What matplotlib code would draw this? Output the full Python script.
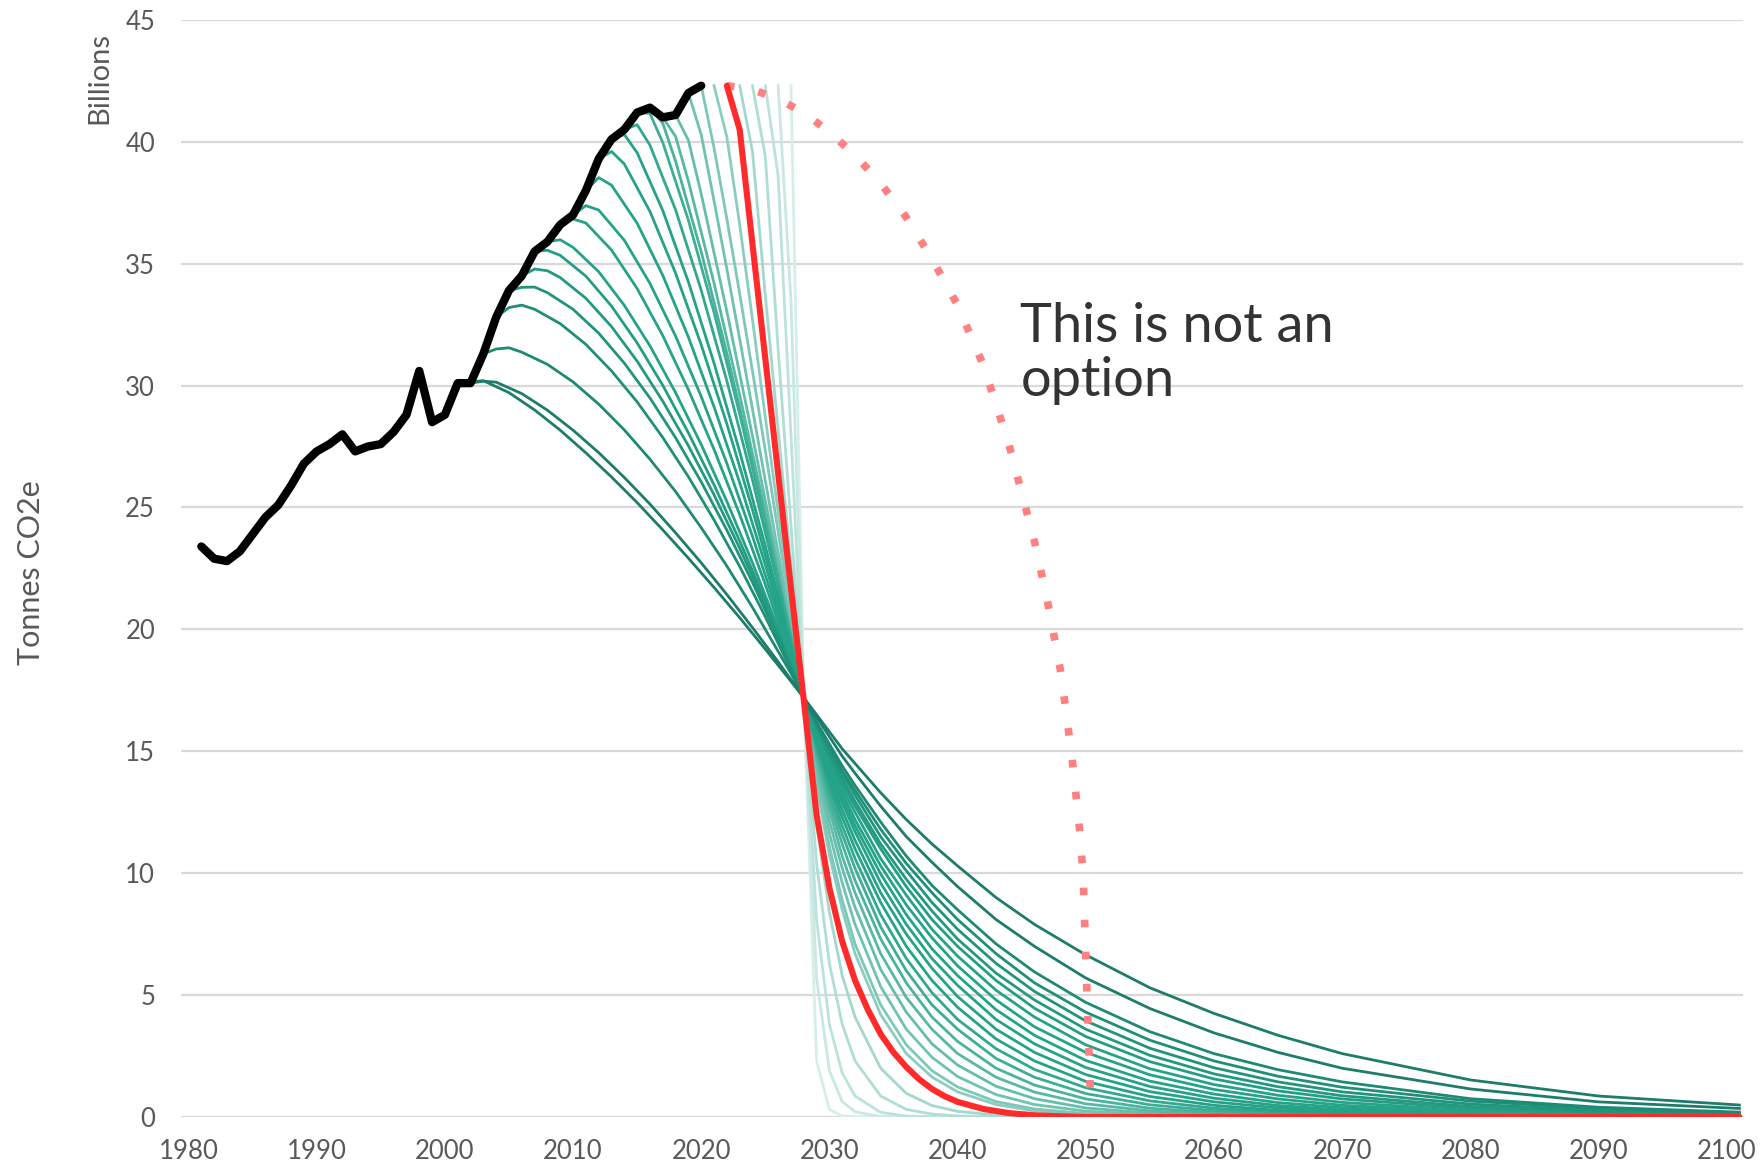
# Emission pathways: historical CO2e and mitigation curves for different start years
import matplotlib
matplotlib.use('Agg')
import matplotlib.pyplot as plt
from matplotlib.colors import to_rgb

plt.rcParams['font.family'] = ['Lato', 'DejaVu Sans']

# historical emissions (billion tonnes CO2e)
hist_years = list(range(1981, 2021))
hist_vals = [23.4, 22.9, 22.8, 23.2, 23.9, 24.6, 25.1, 25.9, 26.8, 27.3,
             27.6, 28.0, 27.3, 27.5, 27.6, 28.1, 28.8, 30.6, 28.5, 28.8,
             30.1, 30.1, 31.3, 32.8, 33.9, 34.5, 35.5, 35.9, 36.6, 37.0,
             38.0, 39.3, 40.1, 40.5, 41.2, 41.4, 41.0, 41.1, 42.0, 42.3]

# mitigation pathways, one per start year
path_starts = [2001, 2002, 2003, 2004, 2005, 2006, 2007, 2008, 2009, 2010,
               2011, 2012, 2013, 2014, 2015, 2016, 2017, 2018, 2019, 2020,
               2021, 2023, 2024, 2025, 2026, 2027]

path_head_years = [
    [2001, 2002, 2003, 2005, 2007, 2009, 2011, 2013, 2015, 2017, 2019, 2021, 2023, 2025, 2027],
    [2002, 2003, 2004, 2006, 2008, 2010, 2012, 2014, 2016, 2018, 2020, 2022, 2024, 2026, 2027],
    [2003, 2004, 2005, 2006, 2008, 2010, 2012, 2014, 2016, 2018, 2020, 2022, 2024, 2026, 2027],
    [2004, 2005, 2006, 2007, 2009, 2011, 2013, 2015, 2017, 2019, 2021, 2023, 2025, 2027],
    [2005, 2006, 2007, 2008, 2010, 2012, 2014, 2016, 2018, 2020, 2022, 2024, 2026, 2027],
    [2006, 2007, 2008, 2009, 2011, 2013, 2015, 2017, 2019, 2021, 2023, 2025, 2027],
    [2007, 2008, 2009, 2011, 2013, 2015, 2017, 2019, 2021, 2023, 2025, 2027],
    [2008, 2009, 2010, 2012, 2014, 2016, 2018, 2020, 2022, 2024, 2026, 2027],
    [2009, 2010, 2011, 2013, 2015, 2017, 2019, 2021, 2023, 2025, 2027],
    [2010, 2011, 2012, 2014, 2016, 2018, 2020, 2022, 2024, 2026, 2027],
    [2011, 2012, 2013, 2015, 2017, 2019, 2021, 2023, 2025, 2027],
    [2012, 2013, 2014, 2016, 2018, 2020, 2022, 2024, 2026, 2027],
    [2013, 2014, 2015, 2017, 2019, 2021, 2023, 2025, 2027],
    [2014, 2015, 2016, 2018, 2020, 2022, 2024, 2026, 2027],
    [2015, 2016, 2017, 2019, 2021, 2023, 2025, 2027],
    [2016, 2017, 2018, 2020, 2022, 2024, 2026, 2027],
    [2017, 2018, 2019, 2021, 2023, 2025, 2027],
    [2018, 2019, 2020, 2022, 2024, 2026, 2027],
    [2019, 2020, 2021, 2022, 2024, 2026, 2027],
    [2020, 2021, 2022, 2023, 2024, 2025, 2026, 2027],
    [2021, 2022, 2023, 2024, 2025, 2026, 2027],
    [2023, 2024, 2025, 2026, 2027],
    [2024, 2025, 2026, 2027],
    [2025, 2026, 2027],
    [2026, 2027],
    [2027],
]
path_head_vals = [
    [30.1, 30.15, 30.2, 29.71, 29.0, 28.17, 27.24, 26.25, 25.2, 24.08, 22.92, 21.72, 20.48, 19.19, 17.87],
    [30.1, 30.18, 30.14, 29.67, 28.99, 28.17, 27.25, 26.23, 25.14, 23.96, 22.73, 21.43, 20.07, 18.67, 17.94],
    [31.3, 31.5, 31.55, 31.37, 30.87, 30.15, 29.24, 28.18, 26.98, 25.65, 24.17, 22.6, 20.9, 19.1, 18.2],
    [32.8, 33.2, 33.3, 33.13, 32.54, 31.69, 30.6, 29.33, 27.87, 26.26, 24.49, 22.58, 20.52, 18.34],
    [33.9, 34.03, 34.04, 33.81, 33.13, 32.15, 30.92, 29.49, 27.86, 26.05, 24.07, 21.93, 19.63, 18.44],
    [34.5, 34.78, 34.71, 34.43, 33.58, 32.42, 31.0, 29.36, 27.53, 25.52, 23.33, 21.0, 18.5],
    [35.5, 35.55, 35.34, 34.49, 33.26, 31.75, 30.01, 28.06, 25.93, 23.63, 21.17, 18.56],
    [35.9, 35.98, 35.67, 34.67, 33.29, 31.63, 29.71, 27.58, 25.25, 22.73, 20.04, 18.64],
    [36.6, 36.83, 36.67, 35.56, 33.98, 32.05, 29.83, 27.38, 24.71, 21.84, 18.79],
    [37.0, 37.38, 37.2, 35.96, 34.19, 32.03, 29.55, 26.81, 23.82, 20.61, 18.93],
    [38.0, 38.53, 38.22, 36.66, 34.52, 31.99, 29.13, 26.02, 22.65, 19.07],
    [39.3, 39.6, 39.09, 37.14, 34.61, 31.67, 28.43, 24.91, 21.16, 19.2],
    [40.1, 40.3, 39.55, 37.18, 34.25, 30.92, 27.29, 23.42, 19.32],
    [40.5, 40.7, 39.86, 37.21, 33.91, 30.19, 26.13, 21.79, 19.52],
    [41.2, 41.16, 39.97, 36.78, 33.0, 28.83, 24.37, 19.64],
    [41.4, 40.76, 39.2, 35.49, 31.33, 26.85, 22.13, 19.69],
    [41.0, 40.22, 38.38, 34.2, 29.62, 24.8, 19.77],
    [41.1, 40.06, 37.86, 33.04, 27.93, 22.64, 19.94],
    [42.0, 40.29, 37.58, 34.78, 29.03, 23.16, 20.19],
    [42.3, 39.75, 36.84, 33.77, 30.59, 27.33, 24.01, 20.63],
    [42.3, 40.2, 36.6, 32.7, 28.7, 24.8, 21.0],
    [42.3, 39.6, 33.7, 28.2, 22.7],
    [42.3, 39.4, 31.5, 24.3],
    [42.3, 38.6, 28.0],
    [42.3, 33.5],
    [42.3],
]

tail_years = [2028, 2029, 2030, 2031, 2032, 2034, 2036, 2038, 2040, 2043,
              2046, 2050, 2055, 2060, 2065, 2070, 2080, 2090, 2101]
path_tail_vals = [
    [17.2, 16.5, 15.8, 15.1, 14.5, 13.3, 12.2, 11.2, 10.3, 9.0, 7.9, 6.65, 5.3, 4.25, 3.35, 2.6, 1.52, 0.86, 0.49],
    [17.2, 16.4, 15.6, 14.8, 14.1, 12.75, 11.5, 10.45, 9.45, 8.1, 7.0, 5.7, 4.45, 3.45, 2.65, 2.0, 1.15, 0.62, 0.35],
    [17.2, 16.2, 15.3, 14.4, 13.6, 12.1, 10.7, 9.5, 8.5, 7.1, 5.95, 4.7, 3.5, 2.6, 1.94, 1.44, 0.75, 0.4, 0.2],
    [17.2, 16.15, 15.2, 14.2, 13.4, 11.8, 10.4, 9.2, 8.1, 6.7, 5.5, 4.3, 3.15, 2.3, 1.67, 1.22, 0.65, 0.35, 0.17],
    [17.2, 16.1, 15.0, 14.1, 13.2, 11.5, 10.1, 8.8, 7.7, 6.3, 5.15, 3.94, 2.82, 2.02, 1.44, 1.03, 0.53, 0.27, 0.13],
    [17.2, 16.0, 14.9, 13.9, 12.95, 11.2, 9.75, 8.45, 7.3, 5.9, 4.8, 3.6, 2.53, 1.77, 1.24, 0.87, 0.43, 0.21, 0.1],
    [17.2, 15.95, 14.8, 13.7, 12.75, 11.0, 9.45, 8.1, 7.0, 5.6, 4.46, 3.3, 2.27, 1.56, 1.07, 0.74, 0.35, 0.16, 0.07],
    [17.2, 15.9, 14.65, 13.5, 12.5, 10.6, 9.1, 7.7, 6.6, 5.2, 4.1, 2.96, 1.98, 1.33, 0.89, 0.6, 0.27, 0.12, 0.05],
    [17.2, 15.8, 14.5, 13.3, 12.2, 10.3, 8.7, 7.35, 6.2, 4.8, 3.7, 2.65, 1.73, 1.13, 0.74, 0.48, 0.21, 0.09, 0.03],
    [17.2, 15.7, 14.3, 13.1, 11.95, 9.97, 8.3, 6.9, 5.8, 4.4, 3.35, 2.32, 1.47, 0.94, 0.59, 0.38, 0.15, 0.06, 0.02],
    [17.2, 15.6, 14.2, 12.9, 11.7, 9.6, 7.9, 6.5, 5.4, 4.0, 3.0, 2.03, 1.25, 0.77, 0.47, 0.29, 0.11, 0.04, 0.01],
    [17.2, 15.5, 14.0, 12.6, 11.35, 9.2, 7.5, 6.1, 4.94, 3.6, 2.65, 1.74, 1.04, 0.62, 0.37, 0.22, 0.08, 0.03, 0.01],
    [17.2, 15.4, 13.75, 12.3, 11.0, 8.8, 7.0, 5.6, 4.5, 3.2, 2.3, 1.46, 0.84, 0.48, 0.27, 0.16, 0.05, 0.02, 0.0],
    [17.2, 15.2, 13.5, 11.95, 10.6, 8.3, 6.5, 5.1, 4.0, 2.8, 1.95, 1.2, 0.66, 0.36, 0.2, 0.11, 0.03, 0.01, 0.0],
    [17.2, 15.1, 13.2, 11.6, 10.2, 7.8, 6.0, 4.6, 3.6, 2.4, 1.63, 0.96, 0.5, 0.26, 0.14, 0.07, 0.02, 0.0, 0.0],
    [17.2, 14.9, 12.9, 11.2, 9.7, 7.3, 5.5, 4.1, 3.1, 2.0, 1.31, 0.74, 0.36, 0.18, 0.09, 0.04, 0.01, 0.0, 0.0],
    [17.2, 14.7, 12.6, 10.7, 9.2, 6.7, 4.9, 3.6, 2.6, 1.63, 1.02, 0.54, 0.25, 0.11, 0.05, 0.02, 0.0, 0.0, 0.0],
    [17.2, 14.45, 12.15, 10.2, 8.6, 6.05, 4.3, 3.0, 2.13, 1.26, 0.75, 0.37, 0.16, 0.07, 0.03, 0.01, 0.0, 0.0, 0.0],
    [17.2, 14.2, 11.65, 9.6, 7.9, 5.35, 3.6, 2.45, 1.66, 0.92, 0.51, 0.24, 0.09, 0.03, 0.01, 0.0, 0.0, 0.0, 0.0],
    [17.2, 13.8, 11.1, 8.9, 7.1, 4.6, 2.96, 1.9, 1.23, 0.63, 0.33, 0.14, 0.05, 0.02, 0.0, 0.0, 0.0, 0.0, 0.0],
    [17.2, 13.6, 10.75, 8.5, 6.7, 4.2, 2.6, 1.64, 1.03, 0.51, 0.25, 0.1, 0.03, 0.0, 0.0, 0.0, 0.0, 0.0, 0.0],
    [17.2, 12.0, 8.4, 5.8, 4.1, 2.0, 0.97, 0.47, 0.23, 0.08, 0.02, 0.0, 0.0, 0.0, 0.0, 0.0, 0.0, 0.0, 0.0],
    [17.2, 10.4, 6.3, 3.8, 2.3, 0.86, 0.31, 0.12, 0.04, 0.01, 0.0, 0.0, 0.0, 0.0, 0.0, 0.0, 0.0, 0.0, 0.0],
    [17.2, 8.1, 3.8, 1.8, 0.86, 0.19, 0.04, 0.01, 0.0, 0.0, 0.0, 0.0, 0.0, 0.0, 0.0, 0.0, 0.0, 0.0, 0.0],
    [17.2, 5.7, 1.9, 0.63, 0.21, 0.02, 0.0, 0.0, 0.0, 0.0, 0.0, 0.0, 0.0, 0.0, 0.0, 0.0, 0.0, 0.0, 0.0],
    [17.2, 2.3, 0.31, 0.04, 0.01, 0.0, 0.0, 0.0, 0.0, 0.0, 0.0, 0.0, 0.0, 0.0, 0.0, 0.0, 0.0, 0.0, 0.0],
]

# pathway starting in 2022 (highlighted)
red_years = [2022, 2023, 2024, 2025, 2026, 2027, 2028, 2029, 2030, 2031, 2032, 2033,
             2034, 2035, 2036, 2037, 2038, 2039, 2040, 2042, 2044, 2046, 2048, 2050, 2101]
red_vals = [42.3, 40.5, 35.8, 31.1, 26.4, 21.7, 17.1, 12.4, 9.4, 7.2, 5.6, 4.4,
            3.4, 2.65, 2.05, 1.55, 1.15, 0.85, 0.62, 0.33, 0.16, 0.07, 0.03, 0.0, 0.0]

# "not an option" pathway
dot_years = [2022, 2024, 2026, 2028, 2030, 2032, 2034, 2036, 2038, 2040, 2042, 2044,
             2045, 2046, 2047, 2048, 2048.5, 2049, 2049.5, 2049.8, 2050.1, 2050.4]
dot_vals = [42.3, 42.15, 41.75, 41.2, 40.4, 39.45, 38.3, 36.9, 35.2, 33.3, 30.85, 27.6,
            25.6, 23.6, 21.2, 18.4, 16.5, 14.4, 11.9, 9.9, 5.0, 0.4]

x_ticks = list(range(1980, 2101, 10))
y_ticks = list(range(0, 46, 5))


def mix(c1, c2, t):
    a, b = to_rgb(c1), to_rgb(c2)
    return tuple(a[i] + (b[i] - a[i]) * t for i in range(3))


fig = plt.figure(figsize=(17.62, 11.69), dpi=100)
ax = fig.add_axes([0.103, 0.0445, 0.886, 0.9385])

# draw the lightest pathways first so the darker ones sit on top
for i in reversed(range(len(path_starts))):
    s = path_starts[i]
    if s <= 2002:
        col = '#1d7c6a'
    elif s <= 2008:
        col = mix('#1e8a74', '#24a388', (s - 2003) / 5)
    elif s <= 2013:
        col = '#24a388'
    else:
        col = mix('#24a388', '#ffffff', min(0.82, (s - 2013) * 0.058))
    xs = path_head_years[i] + tail_years
    ys = path_head_vals[i] + path_tail_vals[i]
    ax.plot(xs, ys, color=col, lw=2.0, solid_joinstyle='round', zorder=2)

ax.plot(dot_years, dot_vals, color='#ff8080', lw=5.5, linestyle=(0, (1, 3.2)), zorder=3)
ax.plot(red_years, red_vals, color='#ff2b2b', lw=4.4, solid_capstyle='round', zorder=4)
ax.plot(hist_years, hist_vals, color='black', lw=6.0, solid_capstyle='round',
        solid_joinstyle='round', zorder=5)

ax.text(2044.9, 31.3, 'This is not an\noption', fontsize=39, color='#333333',
        ha='left', va='center', linespacing=1.12)

ax.set_xlim(1979.45, 2101.25)
ax.set_ylim(0, 45)
ax.set_xticks(x_ticks)
ax.set_xticklabels([str(t) for t in x_ticks])
ax.set_yticks(y_ticks)
ax.tick_params(length=0, labelsize=18.5, colors='#595959')
ax.tick_params(axis='x', pad=16)
ax.tick_params(axis='y', pad=19)
ax.grid(axis='y', color='#d9d9d9', lw=1.6)
ax.set_axisbelow(True)
for sp in ax.spines.values():
    sp.set_visible(False)

fig.text(31 / 1762, 1 - 573 / 1169, 'Tonnes CO2e', rotation=90, fontsize=22,
         color='#595959', ha='center', va='center')
fig.text(99 / 1762, 1 - 78 / 1169, 'Billions', rotation=90, fontsize=21,
         color='#595959', ha='center', va='center')

plt.savefig('out.png', dpi=100)
